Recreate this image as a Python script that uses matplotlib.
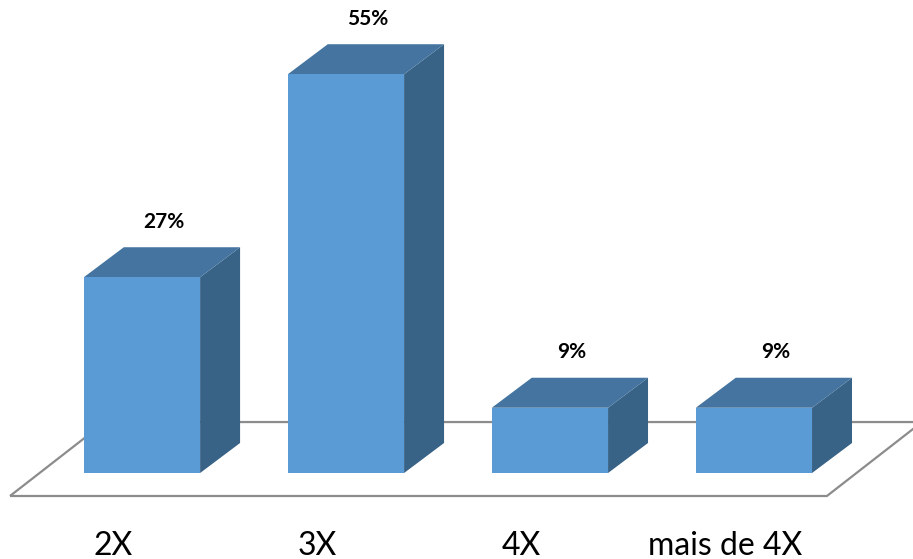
import matplotlib
matplotlib.use("Agg")
import matplotlib.pyplot as plt
from matplotlib.patches import Polygon

# data
categories = ["2X", "3X", "4X", "mais de 4X"]
values = [27, 55, 9, 9]
labels = ["27%", "55%", "9%", "9%"]

# styling
FRONT = "#5B9BD5"
TOP = "#44749F"
SIDE = "#386286"
BAR_W = 0.57
DX, DY = 0.196, 4.14          # 3d depth offset in data units

fig = plt.figure(figsize=(9.13, 5.59), dpi=100)
ax = fig.add_axes([0, 0, 1, 1])
ax.set_xlim(-0.696, 3.78)
ax.set_ylim(-11.86, 65.24)
ax.axis("off")

# floor
fx0, fx1 = -0.647, 3.358
fy0, fy1 = -3.17, 7.03
fdx = 0.466
floor = Polygon([(fx0, fy0), (fx1, fy0), (fx1 + fdx, fy1), (fx0 + fdx, fy1)],
                closed=True, fill=False, edgecolor="#8c8c8c", linewidth=1.6,
                zorder=1)
ax.add_patch(floor)

for i, v in enumerate(values):
    x0 = i - BAR_W / 2
    x1 = i + BAR_W / 2
    side = Polygon([(x1, 0), (x1 + DX, DY), (x1 + DX, v + DY), (x1, v)],
                   closed=True, facecolor=SIDE, edgecolor="none", zorder=2)
    top = Polygon([(x0, v), (x1, v), (x1 + DX, v + DY), (x0 + DX, v + DY)],
                  closed=True, facecolor=TOP, edgecolor="none", zorder=2)
    front = Polygon([(x0, 0), (x1, 0), (x1, v), (x0, v)],
                    closed=True, facecolor=FRONT, edgecolor="none", zorder=3)
    for p in (side, top, front):
        ax.add_patch(p)
    ax.text(i + DX * 0.55, v + DY + 3.5, labels[i], ha="center", va="center",
            fontsize=15, fontweight="bold", family="Lato", color="black")
    ax.text(i - 0.14, -10.0, categories[i], ha="center", va="center",
            fontsize=23, family="Lato", color="black")

fig.savefig("out.png", dpi=100)
